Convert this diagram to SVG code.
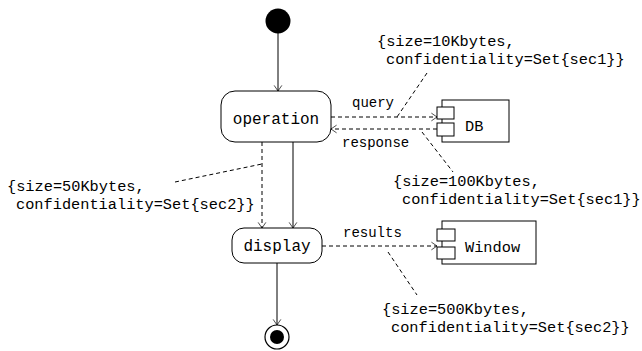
<svg xmlns="http://www.w3.org/2000/svg" width="642" height="351" viewBox="0 0 642 351">
<defs>
<style>
.ln{stroke:#000;stroke-width:1;fill:none}
.dsh{stroke:#000;stroke-width:1;fill:none;stroke-dasharray:4,3}
.box{fill:#fff;stroke:#000;stroke-width:1}
.t{font-family:"Liberation Mono","Courier New",monospace;fill:#000}
.node{font-size:16px;text-anchor:middle}
.comp{font-size:15.3px}
.note{font-size:15.3px}
.lbl{font-size:14px}
</style>
<marker id="ah" viewBox="0 0 10 12" refX="9" refY="6" markerWidth="7" markerHeight="12" markerUnits="userSpaceOnUse" orient="auto">
<path d="M1,0.5 L9,6 L1,11.5" fill="none" stroke="#000" stroke-width="1"/>
</marker>
</defs>
<rect width="642" height="351" fill="#fff"/>

<g id="connectors">
<line class="ln" x1="278" y1="33" x2="278" y2="91" marker-end="url(#ah)"/>
<line class="ln" x1="293" y1="142" x2="293" y2="228" marker-end="url(#ah)"/>
<line class="dsh" x1="262" y1="142" x2="262" y2="228" marker-end="url(#ah)"/>
<line class="dsh" x1="331" y1="117" x2="437" y2="117" marker-end="url(#ah)"/>
<line class="dsh" x1="437" y1="129" x2="331" y2="129" marker-end="url(#ah)"/>
<line class="dsh" x1="322" y1="246" x2="437" y2="246" marker-end="url(#ah)"/>
<line class="ln" x1="277" y1="263" x2="277" y2="325" marker-end="url(#ah)"/>
<line class="dsh" x1="427" y1="73" x2="397" y2="117"/>
<line class="dsh" x1="422" y1="132" x2="453" y2="172"/>
<line class="dsh" x1="175" y1="182" x2="262" y2="164"/>
<line class="dsh" x1="388" y1="252" x2="417" y2="295"/>
<text class="t lbl" x="352" y="107">query</text>
<text class="t lbl" x="342" y="147">response</text>
<text class="t lbl" x="343" y="237">results</text>
</g>

<g id="initial">
<circle cx="278" cy="21" r="12.5" fill="#000"/>
</g>

<g id="operation">
<rect class="box" x="221" y="91" width="110" height="51" rx="14"/>
<text class="t node" x="276" y="124">operation</text>
</g>

<g id="display">
<rect class="box" x="232" y="228" width="90" height="35" rx="12"/>
<text class="t node" x="277" y="251">display</text>
</g>

<g id="final">
<circle cx="277" cy="337" r="12" fill="#fff" stroke="#000" stroke-width="1.2"/>
<circle cx="277" cy="337" r="7" fill="#000"/>
</g>

<g id="DB">
<rect class="box" x="442" y="100" width="67" height="42"/>
<rect class="box" x="437" y="107" width="17" height="12"/>
<rect class="box" x="437" y="123" width="17" height="13"/>
<text class="t comp" x="465" y="131">DB</text>
</g>

<g id="Window">
<rect class="box" x="442" y="221" width="94" height="43"/>
<rect class="box" x="437" y="229" width="18" height="12"/>
<rect class="box" x="437" y="247" width="18" height="12"/>
<text class="t comp" x="465" y="252">Window</text>
</g>

<g id="notes">
<text class="t note" x="377" y="46">{size=10Kbytes,</text>
<text class="t note" x="386" y="64">confidentiality=Set{sec1}}</text>
<text class="t note" x="393" y="186">{size=100Kbytes,</text>
<text class="t note" x="402" y="204">confidentiality=Set{sec1}}</text>
<text class="t note" x="7" y="191">{size=50Kbytes,</text>
<text class="t note" x="16" y="209">confidentiality=Set{sec2}}</text>
<text class="t note" x="382" y="314">{size=500Kbytes,</text>
<text class="t note" x="391" y="332">confidentiality=Set{sec2}}</text>
</g>
</svg>
